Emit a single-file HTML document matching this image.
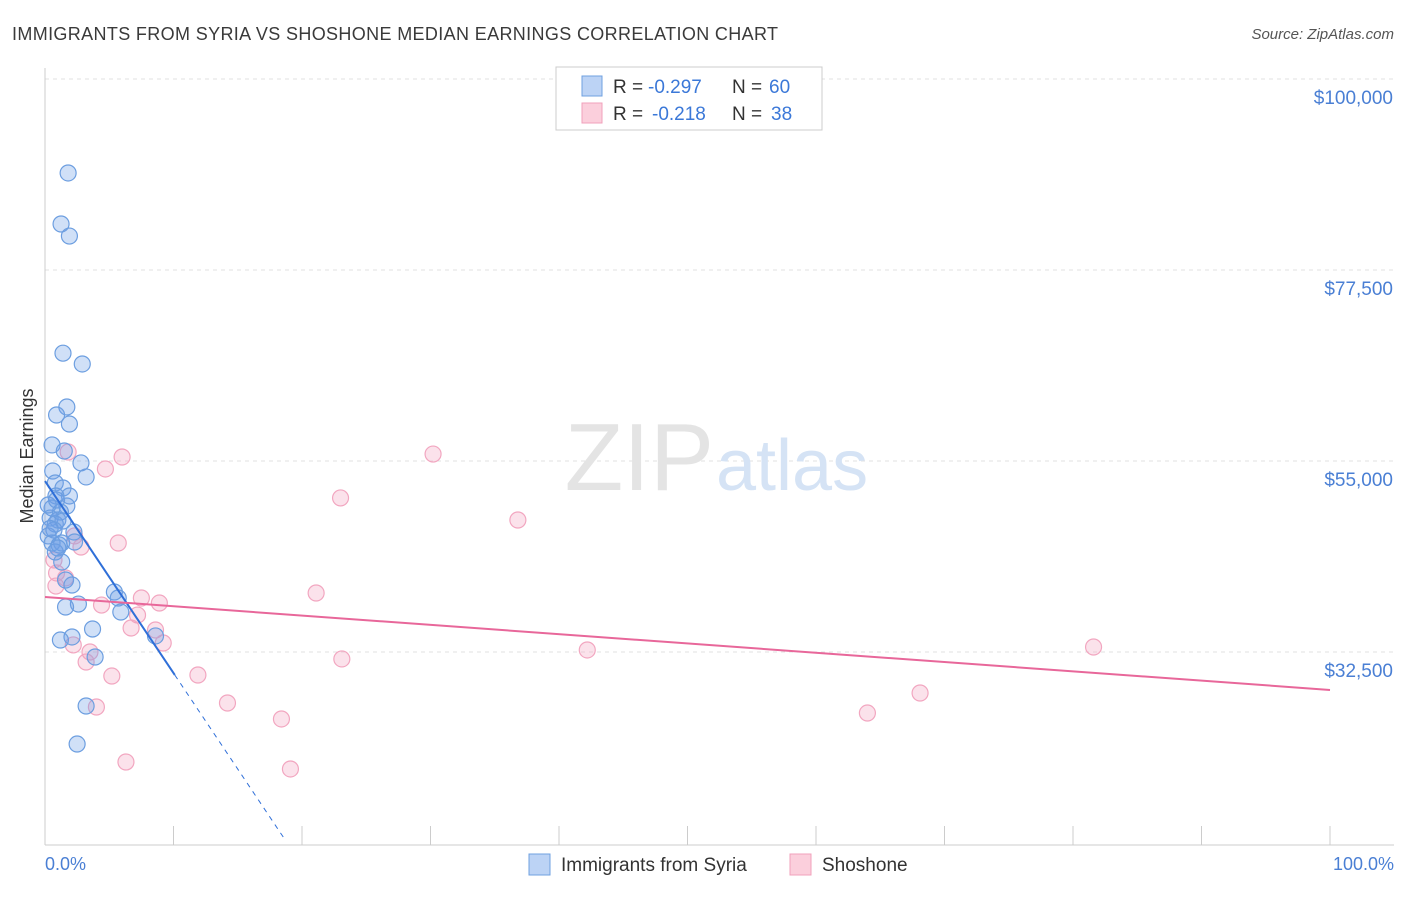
<!DOCTYPE html>
<html><head><meta charset="utf-8"><style>
body{margin:0;background:#fff;font-family:"Liberation Sans",sans-serif;}
svg text{font-family:"Liberation Sans",sans-serif;}
</style></head><body>
<svg width="1406" height="892" viewBox="0 0 1406 892" xmlns="http://www.w3.org/2000/svg">
<text x="12" y="40" font-size="18" fill="#3a3a3a" textLength="766">IMMIGRANTS FROM SYRIA VS SHOSHONE MEDIAN EARNINGS CORRELATION CHART</text>
<text x="1394" y="39" font-size="15" fill="#555" font-style="italic" text-anchor="end">Source: ZipAtlas.com</text>
<g id="grid"></g>
<text x="714" y="490" font-size="96" fill="#e4e4e4" text-anchor="end" font-family="Liberation Serif">ZIP</text>
<text x="716" y="490" font-size="72" fill="#d5e3f5">atlas</text>
<line x1="45" y1="68" x2="45" y2="845" stroke="#ccc"/>
<line x1="45" y1="845" x2="1394" y2="845" stroke="#ccc"/>
<g id="xticks"></g>
<g id="ylabels"></g>
<text x="45" y="870" font-size="18" fill="#4a7fd4">0.0%</text>
<text x="1394" y="870" font-size="18" fill="#4a7fd4" text-anchor="end">100.0%</text>
<text transform="translate(33,456) rotate(-90)" font-size="18" fill="#333" text-anchor="middle">Median Earnings</text>
<g id="points"></g>
<g id="trends"></g>
<g>
<rect x="556" y="67" width="266" height="63" fill="#fff" stroke="#ccc"/>
<rect x="582" y="76" width="20" height="20" fill="#bcd3f5" stroke="#6fa0e0"/>
<rect x="582" y="103" width="20" height="20" fill="#fbcfdc" stroke="#f0a0bb"/>
<text x="613" y="93" font-size="19" fill="#333">R = <tspan x="648" fill="#3b78d8">-0.297</tspan><tspan x="732">N = </tspan><tspan x="769" fill="#3b78d8">60</tspan></text>
<text x="613" y="120" font-size="19" fill="#333">R = <tspan x="652" fill="#3b78d8">-0.218</tspan><tspan x="732">N = </tspan><tspan x="771" fill="#3b78d8">38</tspan></text>
</g>
<g>
<rect x="529" y="854" width="21" height="21" fill="#bcd3f5" stroke="#6fa0e0"/>
<text x="561" y="871" font-size="19" fill="#333">Immigrants from Syria</text>
<rect x="790" y="854" width="21" height="21" fill="#fbcfdc" stroke="#f0a0bb"/>
<text x="822" y="871" font-size="19" fill="#333">Shoshone</text>
</g>
</svg>
<script>
const yTicks=[100000,77500,55000,32500];
const yTickLabels=["$100,000","$77,500","$55,000","$32,500"];
const blueX=[1.8,1.25,1.9,1.4,2.9,1.7,0.9,1.9,0.55,1.5,2.8,0.6,3.2,0.8,1.4,1.9,0.85,1.7,0.55,1.2,0.4,1.0,0.8,1.4,0.7,2.25,0.25,1.3,0.55,2.3,1.1,0.8,1.3,1.6,2.1,5.4,5.7,2.6,1.6,5.9,3.7,2.1,1.2,8.6,3.9,3.2,2.5,0.25,0.9,0.4,1.0];
const blueY=[88930,82920,81500,67700,66430,61360,60420,59360,56890,56180,54770,53820,53120,52410,51820,50880,50880,49700,49460,48990,48280,48050,47580,47930,46870,46640,46170,45340,45340,45460,45110,44280,43100,40980,40390,39570,38860,38150,37800,37210,35210,34270,33910,34390,31910,26140,21660,49820,50400,47050,44750];
const pinkX=[1.8,6.0,30.2,4.7,23.0,36.8,5.7,2.3,2.8,0.7,0.9,1.6,0.85,21.1,7.5,8.9,4.4,7.2,6.7,8.6,9.2,2.2,3.5,42.2,81.6,23.1,3.2,5.2,11.9,68.1,14.2,64.0,18.4,4.0,6.3,19.1];
const pinkY=[56060,55470,55820,54060,50650,48050,45340,46170,44870,43340,41810,41220,40270,39450,38860,38270,38030,36850,35330,35090,33560,33330,32500,32740,33090,31680,31320,29670,29790,27670,26490,25310,24610,26020,19540,18720];
const blueTrend=[52640,-2262];
const pinkTrend=[38980,-109.5];
const X=p=>45+p*12.85;
const Y=v=>79+(100000-v)*191/22500;
const NS="http://www.w3.org/2000/svg";
function mk(tag,attrs,parent){const e=document.createElementNS(NS,tag);for(const k in attrs)e.setAttribute(k,attrs[k]);document.getElementById(parent).appendChild(e);return e;}
yTicks.forEach((v,i)=>{
 const l=mk('line',{x1:45,x2:1394,y1:Y(v),y2:Y(v),stroke:'#e2e2e2','stroke-dasharray':'4,4'},'grid');
 
 
 const t=mk('text',{x:1393,y:Y(v)+25,'font-size':19,fill:'#4a7fd4','text-anchor':'end'},'ylabels');
 t.textContent=yTickLabels[i];
 
 
});
for(let i=0;i<=10;i++){
 const t=mk('line',{x1:X(i*10),x2:X(i*10),y1:826,y2:845,stroke:'#ccc'},'xticks');
 
 
}
pinkX.forEach((x,i)=>{
 const c=mk('circle',{cx:X(x),cy:Y(pinkY[i]),r:8,fill:'rgba(242,160,188,0.3)',stroke:'#f2a6c0','stroke-width':1.2},'points');
 
 
});
blueX.forEach((x,i)=>{
 const c=mk('circle',{cx:X(x),cy:Y(blueY[i]),r:8,fill:'rgba(110,160,230,0.32)',stroke:'#6c9ee0','stroke-width':1.2},'points');
 
 
});
const bv=x=>blueTrend[0]+blueTrend[1]*x;
const b1=mk('line',{x1:X(0),y1:Y(bv(0)),x2:X(10.1),y2:Y(bv(10.1)),stroke:'#2f6fd8','stroke-width':2},'trends');


const b2=mk('line',{x1:X(10.1),y1:Y(bv(10.1)),x2:X(18.7),y2:Y(bv(18.7)),stroke:'#2f6fd8','stroke-width':1,'stroke-dasharray':'5,5'},'trends');


const pv=x=>pinkTrend[0]+pinkTrend[1]*x;
const p1=mk('line',{x1:X(0),y1:Y(pv(0)),x2:X(100),y2:Y(pv(100)),stroke:'#e8679a','stroke-width':2},'trends');


</script>
</body></html>
